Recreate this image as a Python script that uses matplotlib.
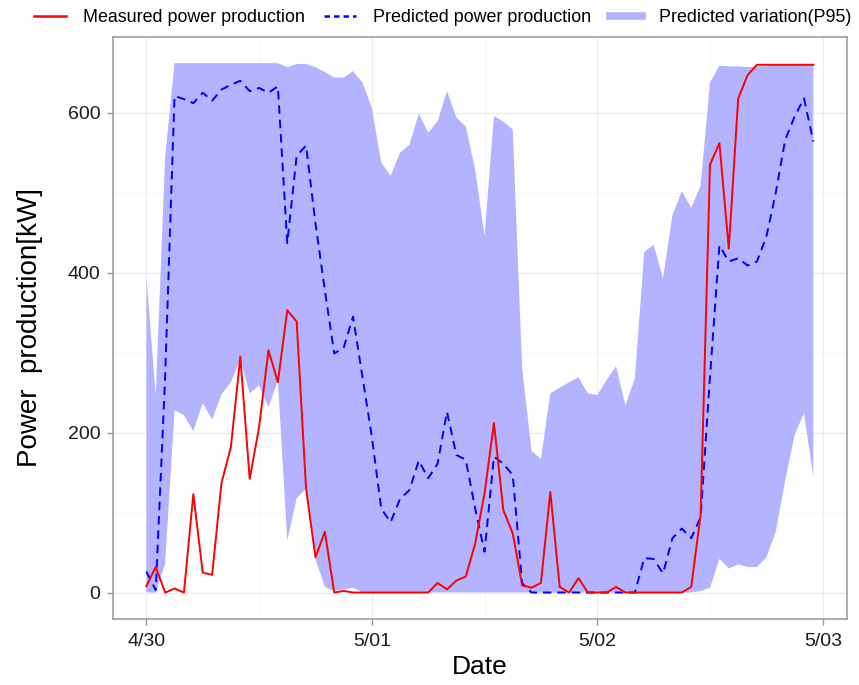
import numpy as np
import matplotlib
matplotlib.use("Agg")
import matplotlib.pyplot as plt
from matplotlib.lines import Line2D
from matplotlib.ticker import FixedLocator

# Hourly samples from 4/30 00:00 to 5/02 23:00
hours = np.arange(72)
date_ticks = [0, 24, 48, 72]
date_labels = ["4/30", "5/01", "5/02", "5/03"]
power_ticks = [0, 200, 400, 600]

measured = [8, 32, 0, 5, 0, 123, 25, 22, 137, 182, 295, 142,
            207, 303, 263, 353, 339, 130, 44, 76, 0, 2, 0, 0,
            0, 0, 0, 0, 0, 0, 0, 12, 4, 15, 20, 61,
            124, 212, 103, 74, 9, 6, 12, 126, 7, 0, 18, 0,
            0, 0, 7, 0, 0, 0, 0, 0, 0, 0, 7, 97,
            535, 562, 430, 618, 647, 660, 660, 660, 660, 660, 660, 660]

predicted = [26, 3, 270, 621, 617, 612, 625, 615, 629, 635, 640, 627,
             631, 625, 633, 437, 546, 559, 462, 378, 299, 306, 345, 270,
             195, 105, 88, 117, 128, 165, 143, 161, 226, 172, 166, 105,
             51, 170, 161, 147, 12, 0, 0, 0, 0, 0, 0, 0,
             0, 0, 0, 0, 0, 43, 42, 24, 68, 80, 68, 94,
             270, 434, 414, 418, 409, 414, 445, 500, 566, 595, 618, 564]

p95_upper = [395, 247, 545, 662, 662, 662, 662, 662, 662, 662, 662, 662,
             662, 662, 662, 657, 661, 661, 657, 651, 644, 644, 652, 638,
             606, 538, 521, 550, 560, 599, 575, 589, 627, 594, 583, 529,
             446, 596, 589, 579, 281, 177, 167, 249, 256, 263, 269, 249,
             247, 266, 283, 234, 268, 426, 435, 393, 472, 502, 481, 509,
             638, 659, 658, 658, 657, 658, 659, 660, 660, 661, 661, 660]

p95_lower = [0, 0, 36, 228, 222, 202, 237, 216, 248, 263, 292, 249,
             259, 232, 265, 65, 118, 130, 42, 7, 2, 4, 6, 0,
             0, 0, 0, 0, 0, 0, 0, 0, 0, 0, 0, 0,
             0, 0, 0, 0, 0, 0, 0, 0, 0, 0, 0, 0,
             0, 0, 0, 0, 0, 0, 0, 0, 0, 0, 0, 2,
             6, 42, 30, 35, 32, 32, 44, 76, 140, 197, 224, 145]

plt.rcParams["font.family"] = ["Liberation Sans", "DejaVu Sans"]

W, H = 859, 685
fig = plt.figure(figsize=(W / 100, H / 100), dpi=100)
left, right, top, bottom = 113, 846.7, 36.7, 619
ax = fig.add_axes([left / W, 1 - bottom / H, (right - left) / W, (bottom - top) / H])

band_color = "#B3B3FF"
ax.fill_between(hours, p95_lower, p95_upper, facecolor=band_color,
                edgecolor="none", linewidth=0, zorder=1)
ax.plot(hours, predicted, color="#0000FF", lw=1.4, dashes=(4.4, 3.0), zorder=2)
ax.plot(hours, measured, color="#FF0000", lw=1.4, zorder=3)

# ggplot-style 5% expansion of the data range
x_span = hours[-1] - hours[0]
ax.set_xlim(hours[0] - 0.05 * x_span, hours[-1] + 0.05 * x_span)
y_max = max(max(p95_upper), max(measured), max(predicted))
ax.set_ylim(-0.05 * y_max, y_max * 1.05)

ax.xaxis.set_major_locator(FixedLocator(date_ticks))
ax.set_xticklabels(date_labels)
ax.xaxis.set_minor_locator(FixedLocator([12, 36, 60]))
ax.yaxis.set_major_locator(FixedLocator(power_ticks))
ax.yaxis.set_minor_locator(FixedLocator([100, 300, 500]))

ax.grid(which="major", color="#EDEDED", lw=0.9, zorder=0)
ax.grid(which="minor", color="#F4F4F4", lw=0.6, zorder=0)
ax.set_axisbelow(True)

for sp in ax.spines.values():
    sp.set_color("#A0A0A0")
    sp.set_linewidth(1.2)

ax.tick_params(which="major", length=4, width=1, color="#999999",
               labelsize=14, labelcolor="#1A1A1A")
ax.tick_params(axis="x", which="major", pad=6)
ax.tick_params(axis="y", which="major", pad=5)
ax.tick_params(which="minor", length=0)

ax.set_xlabel("Date", fontsize=19, color="black", labelpad=4)
ax.set_ylabel("Power  production[kW]", fontsize=20, color="black", labelpad=18)

handles = [
    Line2D([], [], color="#FF0000", lw=1.8),
    Line2D([], [], color="#0000FF", lw=1.8, dashes=(2.2, 1.6)),
    Line2D([], [], color=band_color, lw=5.5),
]
labels = ["Measured power production", "Predicted power production",
          "Predicted variation(P95)"]
fig.legend(handles, labels, ncol=3, loc="center left",
           bbox_to_anchor=(34 / W, 1 - 18 / H), frameon=False,
           fontsize=12.9, handlelength=1.8, handletextpad=0.95,
           columnspacing=1.05, borderpad=0, borderaxespad=0)

fig.savefig("out.png", dpi=100)
